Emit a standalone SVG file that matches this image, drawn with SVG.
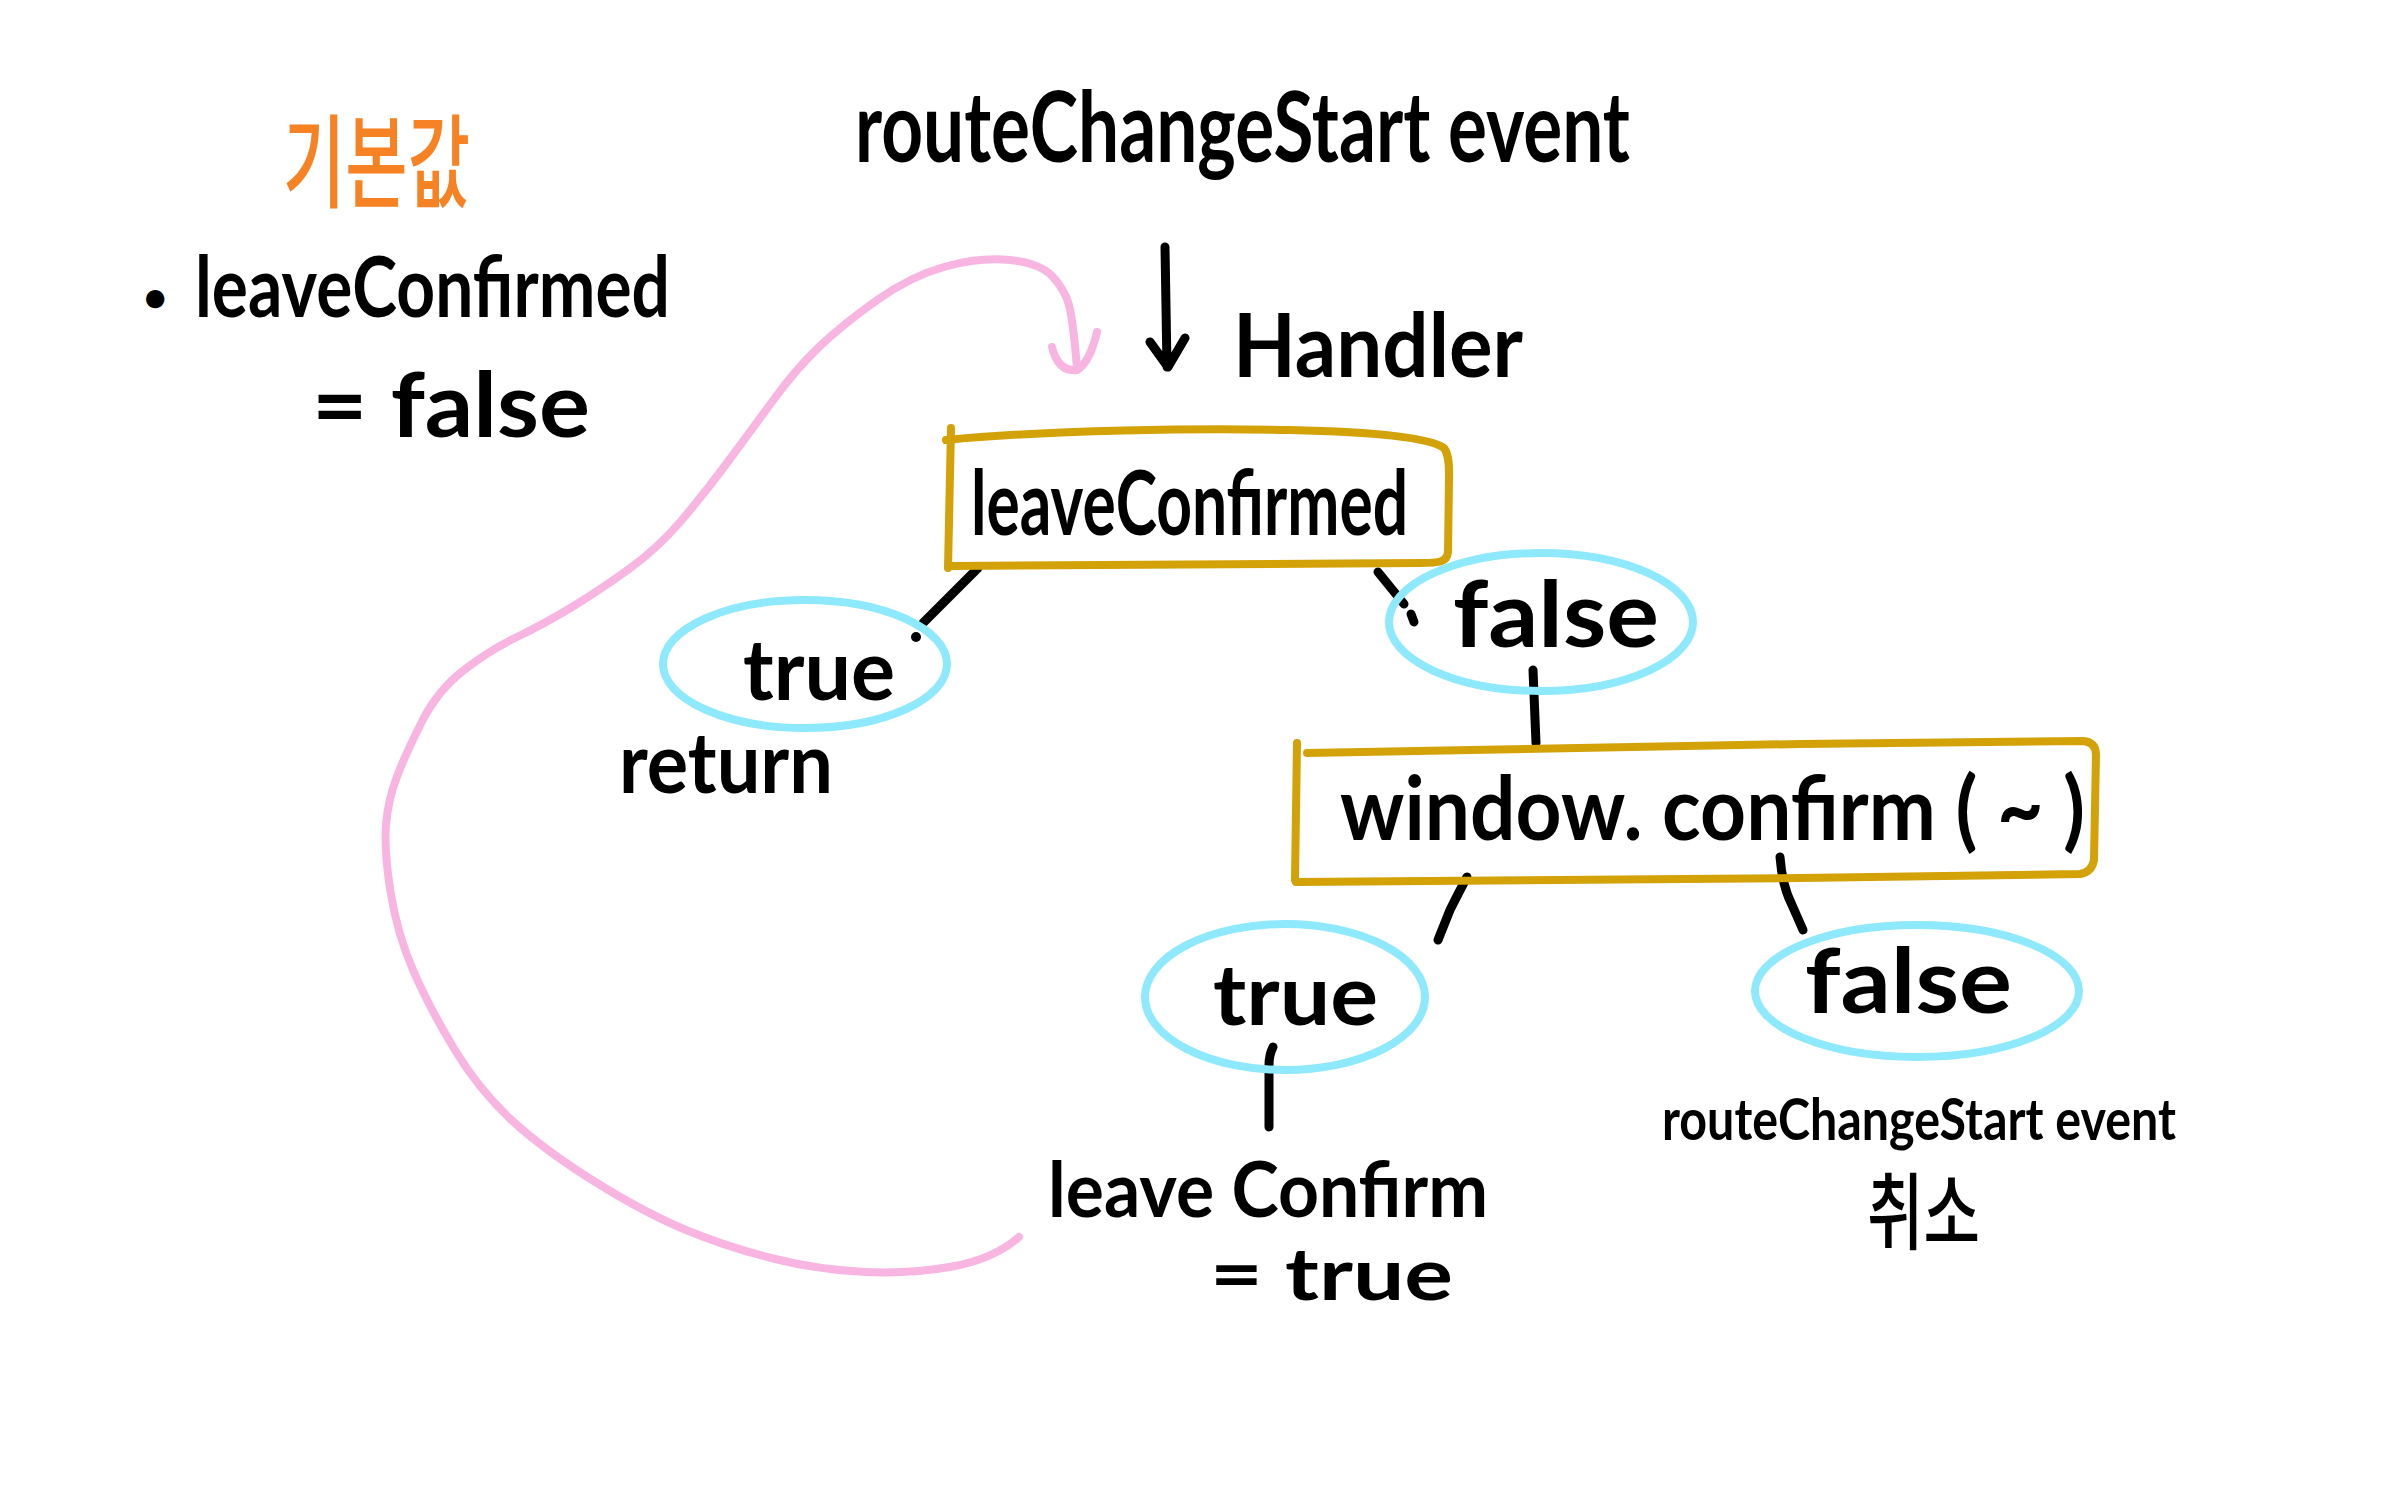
<svg xmlns="http://www.w3.org/2000/svg" width="2386" height="1491" viewBox="0 0 2386 1491">
<style>
.t{font-family:Lato,'Liberation Sans',sans-serif;font-weight:700;fill:#000}
.ko{font-family:'Noto Sans CJK KR',sans-serif;font-weight:500}
.box{fill:none;stroke:#D3A208;stroke-width:8;stroke-linecap:round;stroke-linejoin:round}
.bub{fill:none;stroke:#8DE9FB;stroke-width:8}
.ln{fill:none;stroke:#000;stroke-width:9;stroke-linecap:round;stroke-linejoin:round}
.pink{fill:none;stroke:#F9B5E1;stroke-width:8;stroke-linecap:round;stroke-linejoin:round}
</style>
<rect width="2386" height="1491" fill="#fff"/>

<g id="default-note">
<text class="ko" x="283" y="200" font-size="102" fill="#F68224" textLength="187" lengthAdjust="spacingAndGlyphs">기본값</text>
<text class="t" x="143" y="312" font-size="42">•</text>
<text class="t" x="195" y="317" font-size="84" textLength="475" lengthAdjust="spacingAndGlyphs">leaveConfirmed</text>
<text class="t" x="312" y="437" font-size="90" textLength="278" lengthAdjust="spacingAndGlyphs">= false</text>
</g>

<g id="event-title">
<text class="t" x="855" y="162" font-size="98" textLength="775" lengthAdjust="spacingAndGlyphs">routeChangeStart event</text>
</g>

<g id="handler-label">
<text class="t" x="1233" y="377" font-size="88" textLength="290" lengthAdjust="spacingAndGlyphs">Handler</text>
</g>

<g id="connectors">
<path class="ln" d="M1165,247 L1167,367 M1150,342 L1168,367 L1185,338"/>
<path class="ln" d="M978,568 L923,623"/>
<circle cx="916" cy="637" r="5" fill="#000"/>
<path class="ln" d="M1378,572 L1404,604 M1411,614 L1414,622"/>
<path class="ln" d="M1533,670 L1536,743"/>
<path class="ln" d="M1467,877 Q1460,890 1450,910 L1438,940"/>
<path class="ln" d="M1780,857 Q1782,885 1792,905 L1803,930"/>
<path class="ln" d="M1273,1047 Q1269,1055 1269,1065 L1269,1127"/>
<path class="pink" d="M1019,1237 Q994,1259 952.5,1266.5 Q911,1274 865,1272 Q819,1270 773,1258.5 Q727,1247 686,1230 Q645,1213 594.5,1181.5 Q544,1150 511.5,1120 Q479,1090 454,1048.5 Q429,1007 413,970 Q397,933 390.5,891.5 Q384,850 386,825 Q388,800 397,776.5 Q406,753 422,721.5 Q438,690 464,670 Q490,650 517,637 Q544,624 572,607 Q600,590 629,569 Q658,548 681,521 Q704,494 727,463 Q750,432 773,400.5 Q796,369 819,347 Q842,325 876.5,300.5 Q911,276 945.5,266.5 Q980,257 1010,260 Q1040,263 1052.5,276.5 Q1065,290 1069,305 Q1073,320 1077,368"/>
<path class="pink" d="M1052,347 Q1058,372 1077,370 Q1090,362 1097,332"/>
</g>

<g id="node-leaveConfirmed">
<path class="box" d="M951,428 L948,568"/>
<path class="box" d="M946,440 C1050,430 1200,428 1290,430 C1380,432 1430,438 1444,448 C1450,456 1449,470 1449,480 L1448,552 C1447,562 1440,563 1420,563 L952,566"/>
<text class="t" x="971" y="535" font-size="90" textLength="437" lengthAdjust="spacingAndGlyphs">leaveConfirmed</text>
</g>

<g id="node-true-return">
<ellipse class="bub" cx="805" cy="664" rx="142" ry="64"/>
<text class="t" x="743" y="700" font-size="85" textLength="152" lengthAdjust="spacingAndGlyphs">true</text>
<text class="t" x="619" y="793" font-size="85" textLength="214" lengthAdjust="spacingAndGlyphs">return</text>
</g>

<g id="node-false-1">
<ellipse class="bub" cx="1541" cy="622" rx="152" ry="69"/>
<text class="t" x="1453" y="647" font-size="92" textLength="206" lengthAdjust="spacingAndGlyphs">false</text>
</g>

<g id="node-window-confirm">
<path class="box" d="M1297,743 L1295,880"/>
<path class="box" d="M1307,753 L1800,744 L2083,741 Q2096,742 2096,755 L2094,860 Q2092,872 2080,874 L1800,878 L1296,882"/>
<text class="t" x="1340" y="840" font-size="88" textLength="745" lengthAdjust="spacingAndGlyphs">window. confirm ( ~ )</text>
</g>

<g id="node-true-2">
<ellipse class="bub" cx="1285" cy="997" rx="140" ry="73"/>
<text class="t" x="1213" y="1025" font-size="85" textLength="165" lengthAdjust="spacingAndGlyphs">true</text>
<text class="t" x="1048" y="1217" font-size="76" textLength="440" lengthAdjust="spacingAndGlyphs">leave Confirm</text>
<text class="t" x="1210" y="1300" font-size="72" textLength="243" lengthAdjust="spacingAndGlyphs">= true</text>
</g>

<g id="node-false-2">
<ellipse class="bub" cx="1917" cy="991" rx="162" ry="66"/>
<text class="t" x="1805" y="1013" font-size="90" textLength="207" lengthAdjust="spacingAndGlyphs">false</text>
<text class="t" x="1662" y="1140" font-size="58" textLength="514" lengthAdjust="spacingAndGlyphs">routeChangeStart event</text>
<text class="ko" x="1867" y="1243" font-size="84" fill="#000" textLength="113" lengthAdjust="spacingAndGlyphs">취소</text>
</g>
</svg>
